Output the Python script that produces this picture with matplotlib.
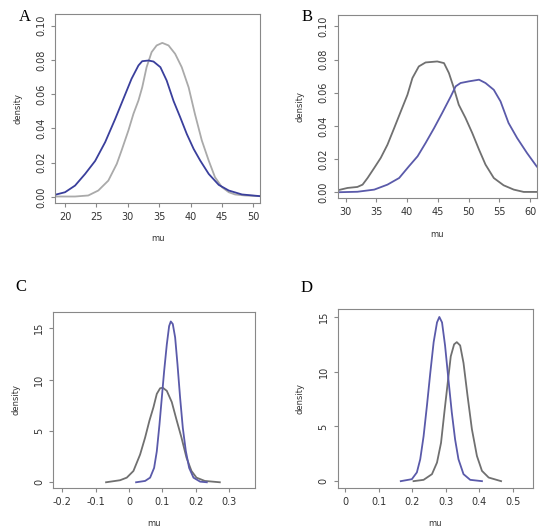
import numpy as np
import matplotlib.pyplot as plt

# Panel A
a_blue_x = [18.4, 20.0, 21.6, 23.2, 24.8, 26.4, 28.0, 29.6, 30.6, 31.7, 32.3, 33.3, 34.1, 35.2, 36.2, 37.3, 38.35, 39.4, 40.5, 41.55, 42.9, 44.5, 46.1, 48.2, 51.1]
a_blue_y = [0.0012, 0.0027, 0.0066, 0.0134, 0.021, 0.032, 0.0456, 0.060, 0.069, 0.0768, 0.0793, 0.0797, 0.0791, 0.0758, 0.068, 0.056, 0.0466, 0.0368, 0.028, 0.0212, 0.0134, 0.007, 0.0037, 0.0014, 0.0004]
a_gray_x = [18.4, 21.6, 23.7, 25.3, 26.9, 28.25, 29.0, 30.1, 30.9, 31.7, 32.3, 33.0, 33.8, 34.6, 35.5, 36.5, 37.55, 38.6, 39.7, 40.7, 41.8, 42.9, 43.9, 45.0, 46.1, 47.1, 48.7, 51.1]
a_gray_y = [0.0002, 0.0002, 0.0008, 0.0037, 0.0095, 0.0193, 0.027, 0.0388, 0.0485, 0.0563, 0.064, 0.0758, 0.0846, 0.0885, 0.090, 0.0885, 0.0836, 0.0758, 0.064, 0.0485, 0.033, 0.0212, 0.0115, 0.0057, 0.0027, 0.0014, 0.0008, 0.0004]

# Panel B
b_gray_x = [28.7, 30.3, 31.9, 32.75, 33.56, 34.65, 35.7, 36.8, 37.9, 38.97, 40.05, 40.86, 41.9, 43.0, 44.9, 46.0, 46.8, 47.6, 48.4, 49.5, 50.6, 51.7, 52.75, 54.1, 55.7, 57.35, 58.97, 61.1]
b_gray_y = [0.0012, 0.0026, 0.0032, 0.0046, 0.0086, 0.0147, 0.0207, 0.0287, 0.0388, 0.0488, 0.0588, 0.0689, 0.0759, 0.0783, 0.0789, 0.0779, 0.0719, 0.0629, 0.0528, 0.0448, 0.0357, 0.0257, 0.0167, 0.0086, 0.0042, 0.0016, 0.0002, 0.0002]
b_blue_x = [28.7, 31.9, 34.65, 36.8, 38.7, 40.3, 41.7, 43.0, 44.4, 45.7, 47.1, 47.9, 48.7, 50.05, 51.7, 52.75, 54.1, 55.2, 56.5, 57.9, 59.5, 61.1]
b_blue_y = [0.0, 0.0003, 0.0016, 0.0046, 0.0086, 0.0157, 0.0217, 0.0297, 0.0388, 0.0478, 0.0578, 0.0639, 0.0659, 0.0669, 0.0679, 0.0659, 0.0618, 0.0548, 0.0418, 0.0327, 0.0237, 0.0155]

# Panel C
c_gray_x = [-0.069, -0.027, -0.007, 0.013, 0.033, 0.048, 0.061, 0.073, 0.083, 0.093, 0.101, 0.113, 0.128, 0.142, 0.157, 0.172, 0.187, 0.202, 0.227, 0.272]
c_gray_y = [0.0, 0.2, 0.45, 1.1, 2.7, 4.35, 6.0, 7.3, 8.6, 9.15, 9.2, 8.9, 7.8, 6.1, 4.35, 2.4, 1.1, 0.45, 0.13, 0.0]
c_blue_x = [0.021, 0.048, 0.063, 0.075, 0.083, 0.091, 0.098, 0.105, 0.113, 0.120, 0.125, 0.131, 0.138, 0.145, 0.153, 0.161, 0.170, 0.180, 0.193, 0.213, 0.233]
c_blue_y = [0.0, 0.13, 0.45, 1.4, 3.0, 5.6, 8.2, 10.8, 13.4, 15.2, 15.65, 15.4, 14.1, 11.5, 8.2, 5.3, 3.05, 1.4, 0.45, 0.06, 0.0]

# Panel D
d_blue_x = [0.166, 0.199, 0.214, 0.224, 0.234, 0.244, 0.254, 0.264, 0.274, 0.281, 0.289, 0.298, 0.308, 0.318, 0.328, 0.338, 0.353, 0.373, 0.408]
d_blue_y = [0.0, 0.18, 0.8, 2.0, 4.1, 6.9, 9.9, 12.7, 14.5, 15.0, 14.5, 12.4, 9.3, 6.3, 3.8, 2.0, 0.64, 0.12, 0.0]
d_gray_x = [0.204, 0.234, 0.259, 0.274, 0.286, 0.296, 0.306, 0.315, 0.325, 0.333, 0.343, 0.353, 0.365, 0.378, 0.393, 0.408, 0.428, 0.465]
d_gray_y = [0.0, 0.12, 0.64, 1.7, 3.5, 6.3, 9.0, 11.4, 12.5, 12.7, 12.4, 10.8, 7.8, 4.75, 2.3, 0.94, 0.33, 0.0]

panels = [
    dict(tag='A', pos=[0.100, 0.618, 0.373, 0.356], xlim=(18.4, 51.1), ylim=(-0.0035, 0.107),
         xt=[20, 25, 30, 35, 40, 45, 50], yt=[0.0, 0.02, 0.04, 0.06, 0.08, 0.10], yfmt='%.2f',
         lines=[(a_gray_x, a_gray_y, '#aaaaaa'), (a_blue_x, a_blue_y, '#3a3f9c')]),
    dict(tag='B', pos=[0.614, 0.627, 0.362, 0.345], xlim=(28.7, 61.1), ylim=(-0.0035, 0.107),
         xt=[30, 35, 40, 45, 50, 55, 60], yt=[0.0, 0.02, 0.04, 0.06, 0.08, 0.10], yfmt='%.2f',
         lines=[(b_gray_x, b_gray_y, '#707070'), (b_blue_x, b_blue_y, '#5a5aaa')]),
    dict(tag='C', pos=[0.0964, 0.0815, 0.367, 0.3315], xlim=(-0.228, 0.377), ylim=(-0.53, 16.6),
         xt=[-0.2, -0.1, 0.0, 0.1, 0.2, 0.3], yt=[0, 5, 10, 15], yfmt='%d',
         lines=[(c_gray_x, c_gray_y, '#707070'), (c_blue_x, c_blue_y, '#5a5aaa')]),
    dict(tag='D', pos=[0.614, 0.0815, 0.355, 0.336], xlim=(-0.022, 0.56), ylim=(-0.6, 15.7),
         xt=[0.0, 0.1, 0.2, 0.3, 0.4, 0.5], yt=[0, 5, 10, 15], yfmt='%d',
         lines=[(d_gray_x, d_gray_y, '#707070'), (d_blue_x, d_blue_y, '#5a5aaa')]),
]

fig = plt.figure(figsize=(5.5, 5.31), dpi=100)
tag_pos = {'A': (25, 17), 'B': (307, 17), 'C': (21, 287), 'D': (307, 288)}

for p in panels:
    ax = fig.add_axes(p['pos'])
    for x, y, c in p['lines']:
        ax.plot(x, y, color=c, lw=1.3)
    ax.set_xlim(*p['xlim'])
    ax.set_ylim(*p['ylim'])
    ax.set_xticks(p['xt'])
    ax.set_xticklabels(['%g' % v for v in p['xt']])
    ax.set_yticks(p['yt'])
    ax.set_yticklabels([p['yfmt'] % v for v in p['yt']], rotation=90, va='center')
    for s in ax.spines.values():
        s.set_color('#888888')
    ax.tick_params(colors='#888888', labelcolor='#333333', labelsize=7, length=3, width=0.8)
    ax.set_xlabel('mu', fontsize=6, color='#333333', labelpad=9)
    ax.set_ylabel('density', fontsize=6, color='#333333', labelpad=10)
    tx, ty = tag_pos[p['tag']]
    fig.text(tx / 550, 1 - ty / 531, p['tag'], fontsize=12, family='Liberation Serif',
             ha='center', va='center')

fig.savefig('out.png', dpi=100)
